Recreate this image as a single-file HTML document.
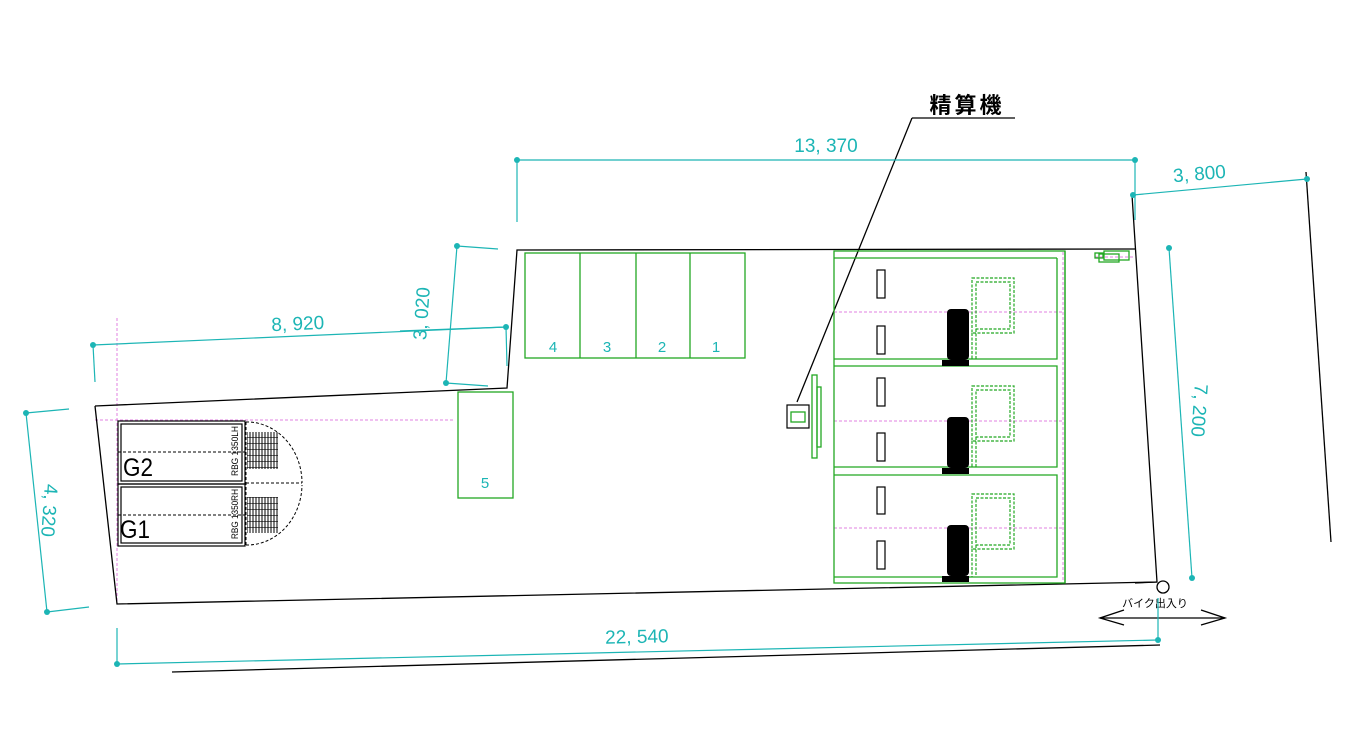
<!DOCTYPE html>
<html><head><meta charset="utf-8"><style>html,body{margin:0;padding:0;background:#fff}svg{display:block}</style></head><body>
<svg width="1356" height="733" viewBox="0 0 1356 733" xmlns="http://www.w3.org/2000/svg" font-family="'Liberation Sans','Noto Sans CJK JP',sans-serif">
<defs>
<pattern id="hatch" width="3" height="6" patternUnits="userSpaceOnUse"><rect width="3" height="6" fill="#fff"/><line x1="1" y1="0" x2="1" y2="6" stroke="#000" stroke-width="1"/><line x1="0" y1="5.5" x2="3" y2="5.5" stroke="#000" stroke-width="0.6"/></pattern>
</defs>
<rect width="1356" height="733" fill="#fff"/>
<g stroke="#e080e0" stroke-width="1" stroke-dasharray="3,2" fill="none">
<line x1="117" y1="318" x2="117" y2="604"/>
<line x1="95" y1="420" x2="455" y2="420"/>
<line x1="834" y1="252" x2="834" y2="582"/>
<line x1="1063" y1="252" x2="1063" y2="582"/>
<line x1="834" y1="312" x2="1063" y2="312"/>
<line x1="834" y1="421" x2="1063" y2="421"/>
<line x1="834" y1="528" x2="1063" y2="528"/>
<line x1="1095" y1="257" x2="1133" y2="257"/>
</g>
<g stroke="#000" stroke-width="1.3" fill="none">
<polyline points="95,406 507,388 517,250 1135,249"/>
<polyline points="95,406 117,604 1157,582 1132,195"/>
<line x1="172" y1="672" x2="1160" y2="645"/>
<line x1="1306" y1="172" x2="1331" y2="542"/>
<line x1="1135" y1="583" x2="1157" y2="582"/>
<circle cx="1163" cy="587" r="6"/>
<line x1="1100" y1="618" x2="1225" y2="618"/>
<polyline points="1124,610 1100,618 1124,625"/>
<polyline points="1201,610 1225,618 1201,625"/>
<polyline points="912,118 1015,118"/>
<line x1="912" y1="118" x2="797" y2="402"/>
</g>
<text x="1155" y="607" font-size="11" text-anchor="middle" fill="#000">バイク出入り</text>
<text x="967" y="113" font-size="22" text-anchor="middle" fill="#000" letter-spacing="3" font-weight="bold">精算機</text>
<g stroke="#1cb5b5" stroke-width="1.2" fill="none">
<line x1="517" y1="160" x2="1135" y2="160"/><line x1="517" y1="160" x2="517" y2="222"/><line x1="1135" y1="160" x2="1135" y2="220"/>
<line x1="1133" y1="195" x2="1307" y2="179"/>
<line x1="1169" y1="248" x2="1192" y2="578"/>
<line x1="457" y1="246" x2="446" y2="383"/><line x1="457" y1="246" x2="498" y2="249"/><line x1="446" y1="383" x2="488" y2="386"/>
<line x1="93" y1="345" x2="506" y2="327"/><line x1="93" y1="345" x2="95" y2="382"/><line x1="506" y1="327" x2="507" y2="366"/><line x1="400" y1="331" x2="506" y2="327"/>
<line x1="26" y1="413" x2="47" y2="612"/><line x1="26" y1="413" x2="69" y2="409"/><line x1="47" y1="612" x2="89" y2="607"/>
<line x1="117" y1="664" x2="1158" y2="640"/><line x1="117" y1="628" x2="117" y2="664"/><line x1="1158" y1="598" x2="1158" y2="640"/>
</g>
<g fill="#1cb5b5">
<circle cx="517" cy="160" r="3"/><circle cx="1135" cy="160" r="3"/><circle cx="1133" cy="195" r="3"/><circle cx="1307" cy="179" r="3"/>
<circle cx="1169" cy="248" r="3"/><circle cx="1192" cy="578" r="3"/><circle cx="457" cy="246" r="3"/><circle cx="446" cy="383" r="3"/>
<circle cx="93" cy="345" r="3"/><circle cx="506" cy="327" r="3"/><circle cx="26" cy="413" r="3"/><circle cx="47" cy="612" r="3"/>
<circle cx="117" cy="664" r="3"/><circle cx="1158" cy="640" r="3"/>
</g>
<g fill="#1cb5b5" font-size="19">
<text x="826" y="152" text-anchor="middle">13, 370</text>
<text x="1200" y="180" text-anchor="middle" transform="rotate(-5 1200 180)">3, 800</text>
<text x="298" y="330" text-anchor="middle" transform="rotate(-2.5 298 330)">8, 920</text>
<text x="637" y="643" text-anchor="middle" transform="rotate(-1.3 637 643)">22, 540</text>
<text x="0" y="0" text-anchor="middle" transform="translate(428,314) rotate(-86)">3, 020</text>
<text x="0" y="0" text-anchor="middle" transform="translate(1193,410) rotate(94)">7, 200</text>
<text x="0" y="0" text-anchor="middle" transform="translate(43,510) rotate(94)">4, 320</text>
</g>
<g stroke="#22a822" stroke-width="1.3" fill="none">
<rect x="525" y="253" width="220" height="105"/>
<line x1="580" y1="253" x2="580" y2="358"/><line x1="636" y1="253" x2="636" y2="358"/><line x1="690" y1="253" x2="690" y2="358"/>
<rect x="458" y="392" width="55" height="106"/>
</g>
<g fill="#1cb5b5" font-size="15" text-anchor="middle">
<text x="553" y="352">4</text><text x="607" y="352">3</text><text x="662" y="352">2</text><text x="716" y="352">1</text><text x="485" y="488">5</text>
</g>
<g stroke="#22a822" stroke-width="1.3" fill="none">
<rect x="834" y="251" width="231" height="332"/>
<line x1="834" y1="258" x2="1057" y2="258"/>
<polyline points="834,359 1057,359 1057,258"/>
<polyline points="834,366 1057,366 1057,467 834,467"/>
<polyline points="834,475 1057,475 1057,577 834,577"/>
<line x1="1065" y1="251" x2="1065" y2="583"/>
<rect x="791" y="412" width="14" height="10"/>
<rect x="812" y="375" width="5" height="83"/><rect x="817" y="387" width="4" height="60"/>
<rect x="1095" y="253" width="8" height="5"/><rect x="1104" y="251" width="25" height="9"/><rect x="1099" y="254" width="20" height="8"/>
</g>
<g stroke="#22a822" stroke-width="1.2" fill="none" stroke-dasharray="3,1.5">
<rect x="972" y="278" width="42" height="55"/><rect x="976" y="282" width="34" height="47"/><line x1="972" y1="333" x2="972" y2="359"/><line x1="976" y1="329" x2="976" y2="359"/>
<rect x="972" y="386" width="42" height="55"/><rect x="976" y="390" width="34" height="47"/><line x1="972" y1="441" x2="972" y2="467"/><line x1="976" y1="437" x2="976" y2="467"/>
<rect x="972" y="494" width="42" height="55"/><rect x="976" y="498" width="34" height="47"/><line x1="972" y1="549" x2="972" y2="577"/><line x1="976" y1="545" x2="976" y2="577"/>
</g>
<rect x="787" y="405" width="22" height="23" fill="none" stroke="#000" stroke-width="1.2"/>
<g stroke="#000" stroke-width="1.2" fill="#fff">
<rect x="877" y="270" width="8" height="28"/><rect x="877" y="326" width="8" height="28"/>
<rect x="877" y="378" width="8" height="28"/><rect x="877" y="433" width="8" height="28"/>
<rect x="877" y="487" width="8" height="27"/><rect x="877" y="541" width="8" height="28"/>
</g>
<g fill="#000">
<rect x="947" y="309" width="22" height="51" rx="4"/><rect x="942" y="360" width="27" height="6"/>
<rect x="947" y="417" width="22" height="51" rx="4"/><rect x="942" y="468" width="27" height="6"/>
<rect x="947" y="525" width="22" height="51" rx="4"/><rect x="942" y="576" width="27" height="6"/>
</g>
<path d="M246,422 A55,61 0 0 1 302,483 M246,545 A55,61 0 0 0 302,485" fill="none" stroke="#000" stroke-dasharray="3,2"/>
<line x1="246" y1="422" x2="246" y2="546" stroke="#000" stroke-dasharray="3,2"/>
<line x1="246" y1="483" x2="302" y2="483" stroke="#000" stroke-dasharray="3,2"/>
<rect x="247" y="432" width="31" height="37" fill="url(#hatch)"/>
<rect x="247" y="497" width="31" height="36" fill="url(#hatch)"/>
<g stroke="#000" stroke-width="1.2" fill="none">
<rect x="118" y="421" width="127" height="63"/><rect x="121" y="424" width="121" height="57"/>
<rect x="118" y="484" width="127" height="62"/><rect x="121" y="487" width="121" height="56"/>
</g>
<g stroke="#000" stroke-dasharray="3,2"><line x1="118" y1="452" x2="245" y2="452"/><line x1="118" y1="515" x2="245" y2="515"/></g>
<g font-size="25" fill="#000"><text x="123" y="476" textLength="30" lengthAdjust="spacingAndGlyphs">G2</text><text x="120" y="538" textLength="30" lengthAdjust="spacingAndGlyphs">G1</text></g>
<g font-size="9" fill="#000"><text transform="translate(238,476) rotate(-90)" textLength="50" lengthAdjust="spacingAndGlyphs">RBG 1350LH</text><text transform="translate(238,539) rotate(-90)" textLength="50" lengthAdjust="spacingAndGlyphs">RBG 1350RH</text></g>
</svg>
</body></html>
